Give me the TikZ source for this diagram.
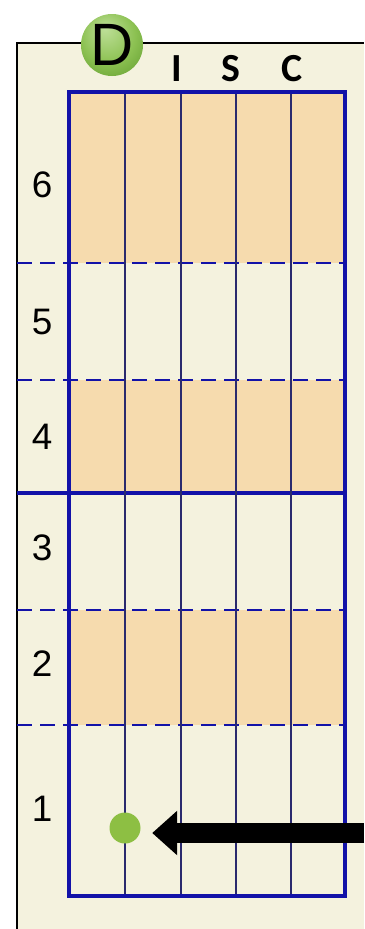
\documentclass[tikz,border=0pt]{standalone}
\usepackage{fontspec}
\setmainfont{Liberation Sans}
\newfontfamily\discfont{Carlito}[BoldFont={Carlito Bold}]
\usetikzlibrary{arrows.meta}

\definecolor{panelcream}{HTML}{F4F2DE}
\definecolor{rowpeach}{HTML}{F6DBAE}
\definecolor{gridblue}{HTML}{1212A8}
\definecolor{colnavy}{HTML}{2A2A6E}
\definecolor{dotgreen}{HTML}{8DBF43}
\definecolor{balltop}{HTML}{BFE09A}
\definecolor{ballmid}{HTML}{8CC152}
\definecolor{balledge}{HTML}{5E9A2C}

\pgfdeclareradialshading{greenball}{\pgfpoint{-6bp}{14bp}}{%
  color(0bp)=(balltop); color(22bp)=(ballmid); color(40bp)=(balledge); color(50bp)=(balledge)}

\tikzset{
  rowlabel/.style={font=\fontsize{37}{37}\selectfont},
  disclabel/.style={font=\discfont\bfseries\fontsize{40}{40}\selectfont},
  dashrow/.style={gridblue,line width=2.2bp,dash pattern=on 15bp off 8bp},
}

\begin{document}
\begin{tikzpicture}[x=1bp,y=-1bp]
  \path[use as bounding box] (0,0) rectangle (364,929);
  \fill[white] (0,0) rectangle (364,929);
  \fill[panelcream] (17,43) rectangle (364,929);
  \draw[black,line width=1.8bp] (17,929) -- (17,43) -- (364,43);

  % shaded rows
  \foreach \ytop/\ybot in {92/263,380/493,610/725}
    \fill[rowpeach] (69,\ytop) rectangle (345,\ybot);

  % row lines
  \foreach \yrow in {263,380,610,725}
    \draw[dashrow] (17,\yrow) -- (345,\yrow);
  \draw[gridblue,line width=3.2bp] (17,493) -- (345,493);

  % columns and frame
  \foreach \xcol in {125,181,236,291}
    \draw[colnavy,line width=2.4bp] (\xcol,92) -- (\xcol,896);
  \draw[gridblue,line width=3.6bp] (69,92) rectangle (345,896);

  \foreach \num/\ypos in {6/185,5/322,4/437,3/548,2/664,1/809}
    \node[rowlabel] (row\num) at (42,\ypos) {\num};

  \node[circle,minimum size=62bp,inner sep=0pt,shading=greenball,
        font=\fontsize{60}{60}\selectfont] (dball) at (112,45) {D};
  \node[disclabel] (iletter) at (177,69) {I};
  \node[disclabel] (sletter) at (231,69) {S};
  \node[disclabel] (cletter) at (292,69) {C};

  \node[circle,fill=dotgreen,minimum size=31bp,inner sep=0pt] (startdot) at (125,828) {};
  \coordinate (arrowtail) at (364,833);
  \draw[line width=20bp,-{Triangle[length=25bp,width=43bp]},shorten >=11.5bp]
    (arrowtail) -- (startdot.east |- arrowtail);
\end{tikzpicture}
\end{document}
